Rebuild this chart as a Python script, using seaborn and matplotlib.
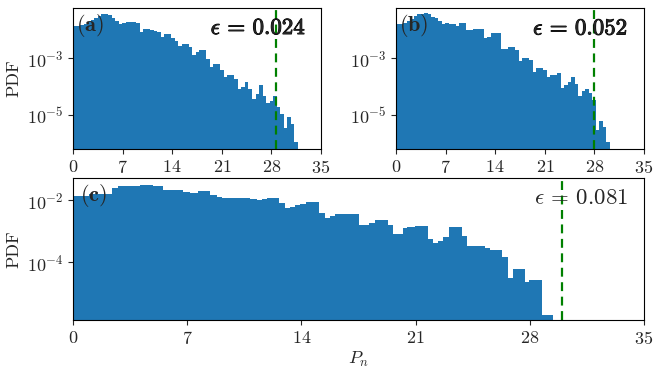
import numpy as np
import pandas as pd
import matplotlib
matplotlib.use("Agg")
import matplotlib.pyplot as plt
import matplotlib.patheffects as pe
import seaborn as sns

# ---------------- data ----------------
# panel (a): epsilon = 0.024, 64 equal bins on [0, 31.7]
a_range = (0.0, 31.7)
a_pdf = [0.0135, 0.0135, 0.0151, 0.0166, 0.0191, 0.0224, 0.0263, 0.0302,
         0.0355, 0.0372, 0.0347, 0.0257, 0.0200, 0.0166, 0.0178, 0.0186,
         0.0186, 0.0186, 0.0178, 0.0083, 0.0110, 0.0107, 0.0095, 0.0093,
         0.0087, 0.0055, 0.0072, 0.0074, 0.0050, 0.0039, 0.0026, 0.0032,
         0.0032, 0.0025, 0.0013, 0.0017, 0.0019, 0.0019, 9.5e-4, 4.8e-4,
         6.3e-4, 6.3e-4, 3.7e-4, 2.1e-4, 2.6e-4, 2.6e-4, 1.9e-4, 8.3e-5,
         9.5e-5, 1.4e-4, 8.3e-5, 3.7e-5, 5.5e-5, 1.1e-4, 4.8e-5, 2.6e-5,
         3.2e-5, 4.6e-5, 1.9e-5, 1.1e-5, 3.6e-6, 8.7e-6, 4.8e-6, 1.1e-6]

# panel (b): epsilon = 0.052, 61 equal bins on [0, 30.18]
b_range = (0.0, 30.18)
b_pdf = [0.0158, 0.0158, 0.0178, 0.0209, 0.0251, 0.0302, 0.0355, 0.0372,
         0.0389, 0.0372, 0.0295, 0.0257, 0.0209, 0.0158, 0.0170, 0.0158,
         0.0158, 0.0141, 0.0170, 0.0170, 0.0100, 0.0100, 0.0107, 0.0107,
         0.0107, 0.0051, 0.0058, 0.0076, 0.0076, 0.0076, 0.0022, 0.0021,
         0.0025, 0.0025, 0.0019, 8.3e-4, 1.05e-3, 1.05e-3, 8.7e-4, 3.4e-4,
         4.7e-4, 4.7e-4, 3.9e-4, 2.2e-4, 2.6e-4, 2.6e-4, 3.0e-4, 8.7e-5,
         1.15e-4, 1.5e-4, 2.1e-4, 1.2e-4, 4.8e-5, 7.1e-5, 8.1e-5, 5.9e-5,
         3.4e-5, 3.0e-6, 6.2e-6, 3.9e-6, 1.15e-6]

# panel (c): epsilon = 0.081, bin edges
c_edges = [0, 1.0, 1.66, 2.37, 2.78, 4.11, 4.92, 5.54, 5.95, 6.76, 7.17,
           7.68, 8.4, 8.81, 9.16, 10.85, 11.26, 11.57, 11.88, 12.65, 13.0,
           13.3, 13.61, 13.92, 14.29, 15.1, 15.45, 15.76, 16.06, 17.54,
           18.15, 18.52, 19.29, 19.64, 20.25, 20.5, 20.97, 21.75, 22.09,
           22.4, 22.7, 23.07, 23.83, 24.18, 25.26, 25.57, 26.28, 26.69,
           26.96, 27.71, 27.98, 28.77, 29.45]
c_pdf = [0.0135, 0.0158, 0.0162, 0.0240, 0.0282, 0.0316, 0.0282, 0.0219,
         0.0214, 0.0178, 0.0170, 0.0191, 0.0151, 0.0123, 0.0115, 0.0112,
         0.0105, 0.0112, 0.0117, 0.0081, 0.0056, 0.0059, 0.0068, 0.0076,
         0.0087, 0.0039, 0.00275, 0.0030, 0.00355, 0.00162, 0.00182,
         0.00234, 0.00162, 8.1e-4, 1.26e-3, 1.32e-3, 1.51e-3, 5.6e-4,
         4.1e-4, 4.7e-4, 6.3e-4, 1.32e-3, 6.8e-4, 3.2e-4, 2.95e-4, 2.5e-4,
         1.45e-4, 3.0e-5, 5.9e-5, 2.2e-5, 2.7e-5, 1.95e-6]

eps_labels = [r"$\epsilon\,=\,0.024$", r"$\epsilon\,=\,0.052$",
              r"$\epsilon\,=\,0.081$"]
eps_bold = [True, True, False]
eps_lines = [28.6, 28.0, 30.0]
panel_tags = [r"$\mathbf{(a)}$", r"$\mathbf{(b)}$", r"$\mathbf{(c)}$"]
x_ticks = [0, 7, 14, 21, 28, 35]

# ---------------- style ----------------
sns.set_style("ticks")
plt.rcParams["font.family"] = ["serif"]
plt.rcParams["font.serif"] = ["cmr10", "DejaVu Serif"]
plt.rcParams["mathtext.fontset"] = "cm"
plt.rcParams["axes.formatter.use_mathtext"] = True
plt.rcParams["axes.unicode_minus"] = False
plt.rcParams["xtick.direction"] = "out"
plt.rcParams["ytick.direction"] = "out"
plt.rcParams["axes.linewidth"] = 0.8
plt.rcParams["axes.edgecolor"] = "black"

W, H = 664, 369
fig = plt.figure(figsize=(W / 100, H / 100), dpi=100)

def rect(l, r, t, b):
    return [l / W, 1 - b / H, (r - l) / W, (b - t) / H]

ax_a = fig.add_axes(rect(73, 321, 8, 149))
ax_b = fig.add_axes(rect(396, 644, 8, 149))
ax_c = fig.add_axes(rect(73, 644, 178, 320))

def edges_equal(rng, n):
    return np.linspace(rng[0], rng[1], n + 1)

panels = [
    (ax_a, edges_equal(a_range, len(a_pdf)), a_pdf, (6.3e-7, 5.9e-2), [1e-3, 1e-5], 0.94),
    (ax_b, edges_equal(b_range, len(b_pdf)), b_pdf, (6.3e-7, 5.9e-2), [1e-3, 1e-5], 0.935),
    (ax_c, np.array(c_edges, dtype=float), c_pdf, (1.35e-6, 5.2e-2), [1e-2, 1e-4], 0.972),
]

for i, (ax, edges, pdf, ylim, yt, tx) in enumerate(panels):
    centers = 0.5 * (edges[:-1] + edges[1:])
    df = pd.DataFrame({"Pn": centers, "pdf": np.asarray(pdf, dtype=float)})
    sns.histplot(data=df, x="Pn", weights="pdf", bins=[float(e) for e in edges],
                 stat="count", element="bars", color="#1f77b4", alpha=1.0,
                 linewidth=0, ax=ax)
    ax.set_yscale("log")
    ax.set_xlim(0, 35)
    ax.set_ylim(*ylim)
    ax.set_xticks(x_ticks)
    ax.set_yticks(yt)
    ax.yaxis.set_minor_locator(matplotlib.ticker.NullLocator())
    ax.tick_params(labelsize=13)
    ax.axvline(eps_lines[i], color="green", linestyle="--", linewidth=1.6,
               dashes=(4, 2.5))
    ax.set_xlabel("")
    ax.set_ylabel("")
    for s in ax.spines.values():
        s.set_visible(True)
        s.set_color("black")
    ax.text(0.012, 0.97, panel_tags[i], transform=ax.transAxes,
            ha="left", va="top", fontsize=16)
    t = ax.text(tx, 0.925, eps_labels[i], transform=ax.transAxes,
                ha="right", va="top", fontsize=16.5)
    if eps_bold[i]:
        t.set_path_effects([pe.withStroke(linewidth=0.7, foreground="black")])

ax_a.set_ylabel("PDF", fontsize=13)
ax_c.set_ylabel("PDF", fontsize=13)
ax_c.set_xlabel(r"$P_n$", fontsize=13, labelpad=2)

fig.savefig("out.png", dpi=100)
